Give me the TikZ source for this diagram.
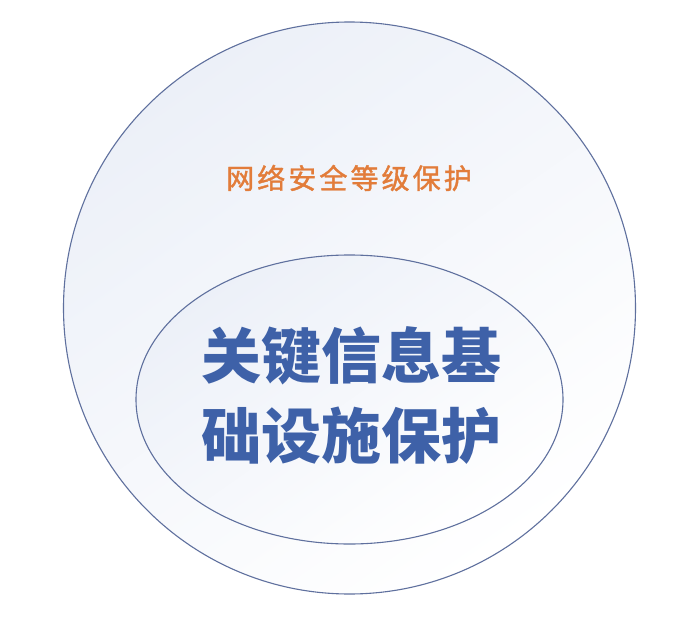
\documentclass[tikz,border=0pt]{standalone}
\usepackage{fontspec}
\usetikzlibrary{shapes.geometric}
\newfontfamily\cjk{Noto Sans CJK SC}
\newfontfamily\cjkspaced{Noto Sans CJK SC}[LetterSpace=11,FakeBold=1.4]
\definecolor{ringline}{RGB}{95,112,158}
\definecolor{paleblue}{RGB}{236,240,248}
\definecolor{orangetext}{RGB}{226,124,58}
\definecolor{bluetext}{RGB}{62,97,168}
\tikzset{
  ring/.style={draw=ringline, line width=1.1pt, inner sep=0pt, top color=paleblue, bottom color=white, shading angle=35},
  outerlabel/.style={text=orangetext, font=\cjkspaced\fontsize{28}{30}\selectfont, inner sep=0pt},
  innerlabel/.style={text=bluetext, font=\cjk\bfseries\fontsize{60}{80}\selectfont, align=center, inner sep=0pt}
}
\begin{document}
\begin{tikzpicture}[x=1pt,y=-1pt]
\useasboundingbox (0,0) rectangle (699,616);
\fill[white] (0,0) rectangle (699,616);
\node[ring, circle, minimum size=572pt] (outer) at (349.5,308) {};
\node[ring, ellipse, minimum width=427pt, minimum height=289pt] (inner) at (349.5,399.5) {};
\node[outerlabel] (outertext) at (349,178) {网络安全等级保护};
\node[innerlabel] (innertext) at (351,395) {关键信息基\\础设施保护};
\end{tikzpicture}
\end{document}
